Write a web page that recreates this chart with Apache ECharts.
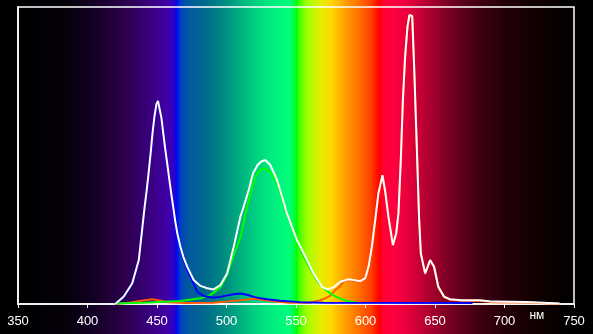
<!DOCTYPE html>
<html>
<head>
<meta charset="utf-8">
<script src="https://cdn.jsdelivr.net/npm/echarts@6/dist/echarts.min.js"></script>
<style>
html,body{margin:0;padding:0;background:#000;}
#chart{width:593px;height:334px;}
</style>
</head>
<body>
<div id="chart"></div>
<script>
// X axis range / ticks (nm)
var xMin = 350, xMax = 750, xStep = 50;
var unitLabel = 'нм';

// Total spectrum (white)
var totalNm  = [420,426.1,432.2,436.9,438.1,439.6,441.0,442.5,443.9,445.3,446.8,448.2,449.6,450.7,451.8,453.2,454.6,456.0,457.5,458.9,460.3,461.8,463.2,464.7,466.9,469.0,471.7,476.4,481.3,486.1,490.8,495.6,500.4,505.2,510,512.4,516,519.1,522.4,525,527.9,531.5,536.3,540.7,543.5,547.1,550.7,555.5,562.6,568.7,572.3,577,581.8,587.8,596.2,599.8,602.2,604.6,607,609.3,612.2,614.2,616.5,619.7,622.1,623.7,625.4,626.9,628.5,630.2,631.6,632.4,633.6,635,636.9,638.6,639.8,642.9,646.5,649.3,652.4,656.5,660.8,669.3,682.2,691.7,715.7,739.7];
var totalVal = [0,2.5,7.0,14.8,19.9,26.3,32.3,38.0,43.8,50.2,57.6,63.3,67.3,68.4,68.0,62.6,57.2,51.9,46.8,41.8,37.0,32.3,27.6,23.6,19.2,15.8,12.6,8.1,6.1,5.3,4.9,6.4,10.3,19.3,29.4,32.8,38.4,44.0,46.8,48.0,48.5,46.8,41.8,35.0,30.5,26.0,21.5,17.1,10.3,5.8,4.9,5.6,7.5,8.3,7.7,8.7,12.6,19.3,28.3,37.3,43.4,37.8,29.4,19.9,23.8,30.5,48.5,68.7,83.3,93.4,97.3,97.6,97.0,79.9,53.0,28.3,17.1,10.3,14.8,12.6,5.8,2.5,1.6,1.3,1.3,0.8,0.7,0.2];

// Blue component
var blueNm  = [420,426.1,432.2,436.9,438.1,439.6,441.0,442.5,443.9,445.3,446.8,448.2,449.6,450.7,451.8,453.2,454.6,456.0,457.5,458.9,460.3,461.8,463.2,464.7,466.9,469.0,471.7,476.4,478.9,483.6,490.8,495.6,500.4,505.2,510,514.8,519.6,524.4,529.2,538.7,548.3,553.1,570,677];
var blueVal = [0,2.2,6.6,14.4,19.5,25.9,31.9,37.6,43.4,49.7,57.1,62.8,66.8,67.9,67.5,62.1,56.7,51.4,46.3,41.3,36.5,31.8,27.1,23.0,18.6,15.1,11.6,6.8,4.1,2.7,2.1,2.4,2.9,3.3,3.5,3.1,2.4,1.9,1.6,1.1,0.8,0.6,0.4,0.3];

// Green component
var greenNm  = [420,440,466.9,481.3,488.4,495.6,500.4,505.2,510,513.6,517.2,520.8,524.4,527.9,531.5,535.1,538.7,542.3,545.9,549.5,552,555.5,558.8,562.6,564.8,568.7,572,575,579.2,586.4,593.5];
var greenVal = [0.2,0.4,1.0,1.9,3.0,5.6,9.8,16.5,22.5,30.5,37.3,42.9,45.1,45.7,44.5,41.8,37.3,31.6,27.2,22.7,19.5,16.0,13.0,10.0,8.1,5.8,4.5,3.5,2.3,1.0,0.5];

// Red component
var redNm  = [420,431,440,446.6,452,458,470,490,500,510,519.6,528,535,545,560,567.5,571,574.7,578.2,581.8,584.2,587.8,596.2,599.8,602.2,604.6,607,609.3,612.2,614.2,616.5,619.7,622.1,623.7,625.4,626.9,628.5,630.2,631.6,632.4,633.6,635,636.9,638.6,639.8,642.9,646.5,649.3,652.4,656.5,660.8,669.3,682.2,691.7,715.7,739.7];
var redVal = [0,0.5,1.2,1.6,1.2,0.6,0.3,0.4,0.8,1.3,1.8,1.3,0.8,0.4,0.4,1.3,1.9,2.8,4.7,6.0,7.5,8.1,7.5,8.5,12.4,19.1,28.1,37.1,43.2,37.6,29.2,19.7,23.6,30.3,48.3,68.5,83.1,93.2,97.1,97.6,96.8,79.7,52.8,28.1,16.9,10.1,14.6,12.4,5.6,2.3,1.4,1.1,1.1,0.6,0.5,0.1];

function zip(a, b) { return a.map(function (v, i) { return [v, b[i]]; }); }

// Background spectrum colour stops (nm, colour)
var bgNm  = [350,385,400,415,430,445,458,462,464,467,472,485,500,515,530,545,549,550.5,552,558,567,575,585,595,604,608,610,613,620,630,645,660,680,700,720,740,750];
var bgCol = ['#000000','#05000a','#10001e','#1e0036','#2e0054','#3a007e','#4000aa','#3000c8','#0008f0','#0040c4','#00589e','#006a8c','#009080','#00c080','#00e880','#00ff7a','#00ff40','#00ff00','#40ff00','#a0ff00','#e0f000','#ffd800','#ffa000','#ff7000','#ff4000','#ff1400','#ff0000','#ff0036','#ff0040','#e8003c','#b00030','#780022','#420012','#240008','#120000','#060000','#000000'];

var chart = echarts.init(document.getElementById('chart'));
var font = '"Liberation Sans", Arial, sans-serif';

function lineSeries(name, data, color) {
  return {
    name: name, type: 'line', data: data, showSymbol: false, symbol: 'none',
    lineStyle: { color: color, width: 2 }, animation: false, z: 3
  };
}

chart.setOption({
  backgroundColor: '#000',
  animation: false,
  grid: { left: 18, right: 19, top: 7, bottom: 30, show: true, borderColor: '#fff', borderWidth: 1.5, backgroundColor: 'transparent' },
  xAxis: {
    type: 'value', min: xMin, max: xMax, interval: xStep,
    axisLine: { show: true, lineStyle: { color: '#fff', width: 1.5 } },
    axisTick: { show: true, length: 4, lineStyle: { color: '#fff', width: 1 } },
    axisLabel: { color: '#fff', fontSize: 13, fontFamily: font, margin: 11 },
    splitLine: { show: false }
  },
  yAxis: {
    type: 'value', min: 0, max: 100,
    axisLine: { show: true, lineStyle: { color: '#fff', width: 1.5 } },
    axisTick: { show: false }, axisLabel: { show: false }, splitLine: { show: false }
  },
  series: [
    lineSeries('red', zip(redNm, redVal), '#ff5a00'),
    lineSeries('green', zip(greenNm, greenVal), '#00ff00'),
    lineSeries('blue', zip(blueNm, blueVal), '#0000ff'),
    Object.assign(lineSeries('total', zip(totalNm, totalVal), '#ffffff'), { z: 4 })
  ]
});

var p0 = chart.convertToPixel({ gridIndex: 0 }, [xMin, 0]);
var p1 = chart.convertToPixel({ gridIndex: 0 }, [xMax, 0]);
var pu = chart.convertToPixel({ gridIndex: 0 }, [723.3, 0]);
var stops = bgNm.map(function (nm, i) { return { offset: (nm - xMin) / (xMax - xMin), color: bgCol[i] }; });

chart.setOption({
  graphic: [
    {
      type: 'rect', z: -10, silent: true,
      shape: { x: p0[0], y: 0, width: p1[0] - p0[0], height: 334 },
      style: { fill: { type: 'linear', x: 0, y: 0, x2: 1, y2: 0, colorStops: stops } }
    },
    {
      type: 'text', z: 10, silent: true,
      x: pu[0], y: pu[1] + 12,
      style: { text: unitLabel, fill: '#fff', fontSize: 12, fontFamily: font, align: 'center', verticalAlign: 'middle' }
    }
  ]
});
</script>
</body>
</html>
